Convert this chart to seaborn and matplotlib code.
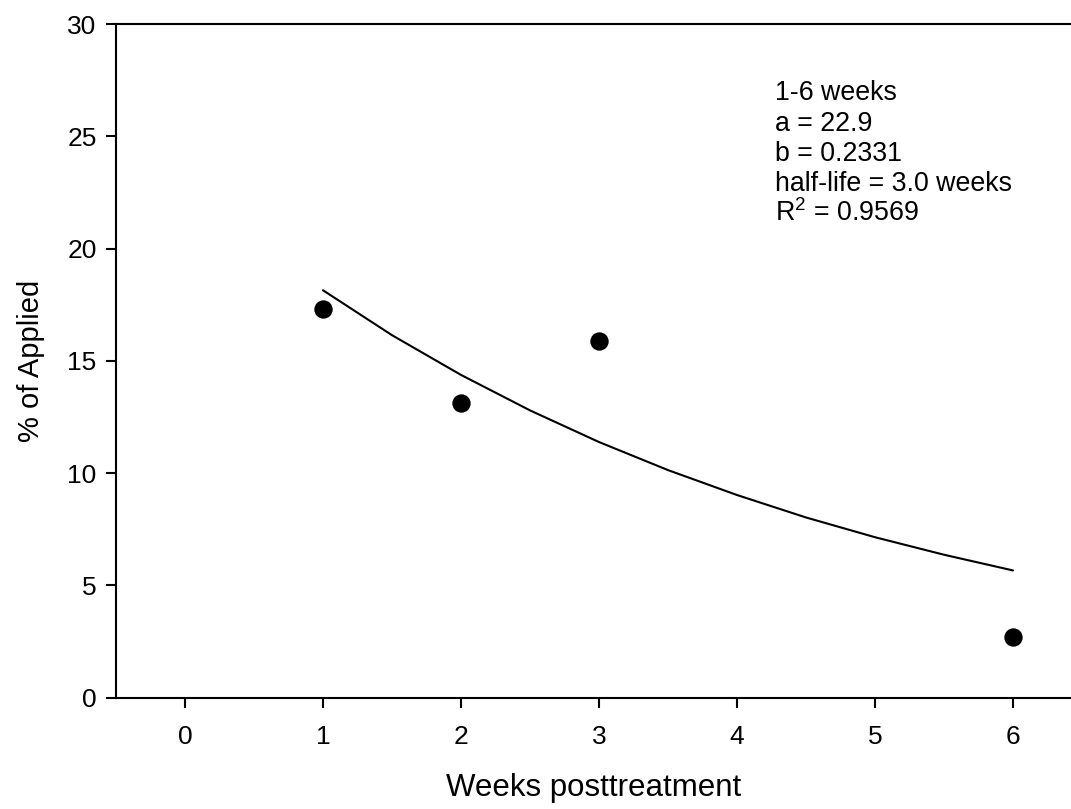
import matplotlib
matplotlib.use("Agg")
import matplotlib.pyplot as plt
import seaborn as sns
import pandas as pd

# observed residues
weeks = [1, 2, 3, 6]
pct_applied = [17.3, 13.1, 15.9, 2.7]

# fitted first-order decay curve
fit_weeks = [1, 1.5, 2, 2.5, 3, 3.5, 4, 4.5, 5, 5.5, 6]
fit_pct = [18.14, 16.14, 14.37, 12.79, 11.38, 10.13, 9.02, 8.02, 7.14, 6.36, 5.66]

fit_lines = ["1-6 weeks", "a = 22.9", "b = 0.2331",
             "half-life = 3.0 weeks", "R$^2$ = 0.9569"]

sns.set_style("ticks")
plt.rcParams["font.family"] = ["Liberation Sans", "DejaVu Sans"]
plt.rcParams["mathtext.fontset"] = "custom"
plt.rcParams["mathtext.rm"] = "Liberation Sans"
for k in ["text.color", "axes.labelcolor", "xtick.color", "ytick.color",
          "xtick.labelcolor", "ytick.labelcolor"]:
    plt.rcParams[k] = "black"

pts = pd.DataFrame({"week": weeks, "pct": pct_applied})
fit = pd.DataFrame({"week": fit_weeks, "pct": fit_pct})

fig = plt.figure(figsize=(10.71, 8.09), dpi=100)
ax = fig.add_axes([0.1083, 0.1378, 0.8917, 0.8325])

sns.lineplot(data=fit, x="week", y="pct", color="black", lw=1.5, ax=ax)
sns.scatterplot(data=pts, x="week", y="pct", color="black", s=175,
                edgecolor="black", linewidth=0, ax=ax, zorder=3)

ax.set_xlim(-0.5, 6.42)
ax.set_ylim(0, 30)
ax.set_xticks([0, 1, 2, 3, 4, 5, 6])
ax.set_yticks([0, 5, 10, 15, 20, 25, 30])

for s in ["left", "top", "bottom"]:
    ax.spines[s].set_linewidth(1.5)
    ax.spines[s].set_color("black")
ax.spines["right"].set_visible(False)

ax.tick_params(axis="both", length=7, width=1.5, color="black", labelsize=19)
ax.tick_params(axis="x", pad=13)
ax.tick_params(axis="y", pad=7)

ax.set_xlabel("Weeks posttreatment", fontsize=22.5, labelpad=17)
ax.set_ylabel("% of Applied", fontsize=21, labelpad=16)

# fit summary, one line at a time so the spacing stays even
for i, line in enumerate(fit_lines):
    ax.annotate(line, xy=(4.275, 26.6), xytext=(0, -21.8 * i),
                textcoords="offset points", fontsize=19.3,
                ha="left", va="baseline")

fig.savefig("out.png", dpi=100)
